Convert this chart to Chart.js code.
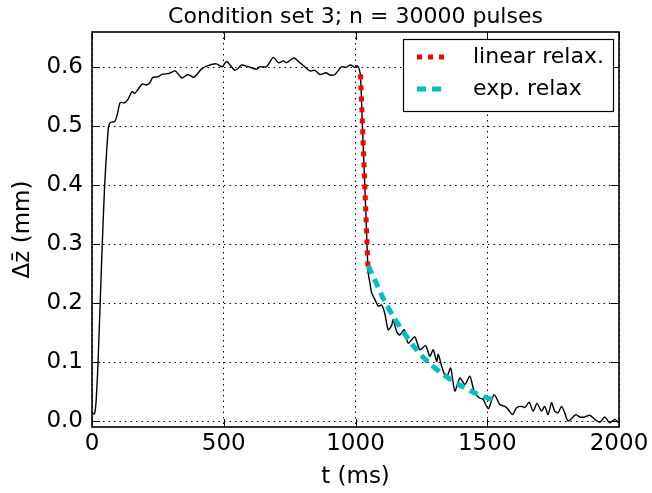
<!DOCTYPE html>
<html>
<head>
<meta charset="utf-8">
<script src="https://cdn.jsdelivr.net/npm/chart.js@4/dist/chart.umd.min.js"></script>
<style>
  html, body { margin: 0; padding: 0; background: #fff; }
  #wrap { width: 652px; height: 493px; }
</style>
</head>
<body>
<div id="wrap"><canvas id="chart"></canvas></div>
<script>
// measured signal (ms, mm)
const tMeas = [0, 5, 10, 15, 20, 23, 31, 39, 48, 56, 63, 71, 86, 96, 107, 124, 137, 152, 162, 175,
  191, 206, 219, 231, 250, 266, 295, 316, 341, 364, 387, 415, 440, 472, 494, 511, 543, 568, 587, 625,
  637, 662, 688, 707, 726, 738, 766, 789, 827, 846, 865, 888, 903, 922, 947, 964, 981, 998, 1007, 1014,
  1019, 1026, 1033, 1040, 1048, 1055, 1061, 1074, 1086, 1099, 1111, 1124, 1137, 1143, 1156, 1168, 1185, 1200,
  1225, 1244, 1266, 1282, 1295, 1308, 1314, 1329, 1345, 1361, 1377, 1396, 1415, 1434, 1450, 1468, 1484, 1504,
  1526, 1548, 1567, 1579, 1596, 1612, 1630, 1643, 1659, 1674, 1689, 1706, 1718, 1731, 1744, 1756, 1769, 1782,
  1794, 1807, 1836, 1851, 1870, 1889, 1908, 1927, 1946, 1965, 1984, 1997, 2000];
const zMeas = [0.016, 0.012, 0.013, 0.03, 0.07, 0.1, 0.2, 0.3, 0.4, 0.46, 0.5, 0.507, 0.508, 0.52, 0.54, 0.54, 0.546, 0.559, 0.556, 0.563,
  0.572, 0.57, 0.574, 0.583, 0.584, 0.588, 0.59, 0.594, 0.582, 0.588, 0.583, 0.597, 0.603, 0.606, 0.601, 0.61, 0.595, 0.604, 0.602, 0.597,
  0.601, 0.601, 0.617, 0.608, 0.611, 0.608, 0.616, 0.608, 0.594, 0.595, 0.588, 0.591, 0.587, 0.588, 0.601, 0.6, 0.604, 0.6, 0.603, 0.597,
  0.585, 0.505, 0.425, 0.345, 0.252, 0.234, 0.218, 0.206, 0.195, 0.197, 0.183, 0.155, 0.162, 0.172, 0.152, 0.146, 0.155, 0.132,
  0.143, 0.121, 0.128, 0.11, 0.121, 0.101, 0.113, 0.09, 0.073, 0.09, 0.051, 0.073, 0.062, 0.076, 0.051, 0.04, 0.037, 0.021,
  0.045, 0.028, 0.025, 0.02, 0.011, 0.023, 0.025, 0.023, 0.032, 0.017, 0.03, 0.017, 0.025, 0.011, 0.031, 0.017, 0.014, 0.025,
  0.014, 0.0, 0.011, 0.007, 0.007, 0.01, 0.003, -0.002, 0.007, -0.003, 0.003, -0.002, 0.0];

// linear relaxation fit
const tLin = [1019, 1048];
const zLin = [0.588, 0.252];

// exponential relaxation fit
const tExp = [1048, 1064, 1080, 1111, 1147, 1185, 1226, 1278, 1333, 1392, 1456, 1526, 1535];
const zExp = [0.264, 0.248, 0.233, 0.203, 0.175, 0.149, 0.124, 0.099, 0.079, 0.062, 0.047, 0.035, 0.034];

const xTicks = [0, 500, 1000, 1500, 2000];
const yTicks = [0.0, 0.1, 0.2, 0.3, 0.4, 0.5, 0.6];

const TITLE = 'Condition set 3; n = 30000 pulses';
const FONT = 'DejaVu Sans';
const toPts = (xs, ys) => xs.map((x, i) => ({ x: x, y: ys[i] }));

// full box with inward ticks, like the old matplotlib style
const framePlugin = {
  id: 'frame',
  afterDatasetsDraw(chart) {
    const { ctx, chartArea: a, scales } = chart;
    ctx.save();
    ctx.strokeStyle = '#000';
    ctx.lineWidth = 1;
    ctx.beginPath();
    scales.x.ticks.forEach(t => {
      const px = Math.round(scales.x.getPixelForValue(t.value)) + 0.5;
      ctx.moveTo(px, a.bottom); ctx.lineTo(px, a.bottom - 8);
      ctx.moveTo(px, a.top); ctx.lineTo(px, a.top + 8);
    });
    scales.y.ticks.forEach(t => {
      const py = Math.round(scales.y.getPixelForValue(t.value)) + 0.5;
      ctx.moveTo(a.left, py); ctx.lineTo(a.left + 8, py);
      ctx.moveTo(a.right, py); ctx.lineTo(a.right - 8, py);
    });
    ctx.stroke();
    ctx.lineWidth = 1.6;
    ctx.strokeRect(a.left, a.top, a.right - a.left, a.bottom - a.top);

    // title centred over the axes
    ctx.fillStyle = '#000';
    ctx.font = '22px "' + FONT + '"';
    ctx.textAlign = 'center';
    ctx.textBaseline = 'middle';
    ctx.fillText(TITLE, (a.left + a.right) / 2, a.top - 15);
    ctx.restore();
  }
};

// legend box drawn in the upper right of the axes
const boxLegend = {
  id: 'boxLegend',
  afterDraw(chart) {
    const { ctx, chartArea: a } = chart;
    const items = chart.data.datasets.filter(d => d.label);
    const w = 210, rowH = 32;
    const h = items.length * rowH + 8;
    const x0 = a.right - 6 - w, y0 = a.top + 7;
    ctx.save();
    ctx.fillStyle = '#fff';
    ctx.fillRect(x0, y0, w, h);
    ctx.strokeStyle = '#000';
    ctx.lineWidth = 1.2;
    ctx.strokeRect(x0 + 0.5, y0 + 0.5, w, h);
    items.forEach((d, i) => {
      const y = y0 + 18 + i * rowH;
      ctx.beginPath();
      ctx.setLineDash(d.borderDash || []);
      ctx.lineCap = 'butt';
      ctx.strokeStyle = d.borderColor;
      ctx.lineWidth = d.borderWidth;
      ctx.moveTo(x0 + 14, y);
      ctx.lineTo(x0 + 44, y);
      ctx.stroke();
      ctx.setLineDash([]);
      ctx.fillStyle = '#000';
      ctx.font = '22px "' + FONT + '"';
      ctx.textBaseline = 'middle';
      ctx.textAlign = 'left';
      ctx.fillText(d.label, x0 + 70, y);
    });
    ctx.restore();
  }
};

new Chart(document.getElementById('chart'), {
  type: 'line',
  data: {
    datasets: [
      {
        data: toPts(tMeas, zMeas),
        borderColor: '#000',
        borderWidth: 1.4,
        pointRadius: 0,
        tension: 0.25,
        order: 3
      },
      {
        label: 'linear relax.',
        data: toPts(tLin, zLin),
        borderColor: '#ff0000',
        borderWidth: 5,
        borderDash: [5, 6],
        borderCapStyle: 'butt',
        pointRadius: 0,
        order: 2
      },
      {
        label: 'exp. relax',
        data: toPts(tExp, zExp),
        borderColor: '#00bfbf',
        borderWidth: 5,
        borderDash: [9, 6],
        borderCapStyle: 'butt',
        pointRadius: 0,
        tension: 0.3,
        order: 1
      }
    ]
  },
  options: {
    responsive: true,
    maintainAspectRatio: false,
    animation: false,
    layout: { padding: { top: 32, right: 33, left: 0, bottom: 0 } },
    plugins: {
      legend: { display: false },
      tooltip: { enabled: false },
      title: { display: false }
    },
    scales: {
      x: {
        type: 'linear',
        min: 0,
        max: 2000,
        afterFit: s => { s.height = 66; },
        afterBuildTicks: s => { s.ticks = xTicks.map(v => ({ value: v })); },
        grid: { color: '#000', lineWidth: 1, drawTicks: false },
        border: { display: false, dash: [1.5, 4] },
        ticks: {
          color: '#000', padding: 3, maxRotation: 0,
          font: { family: FONT, size: 23 },
          callback: v => String(v)
        },
        title: {
          display: true, text: 't (ms)', color: '#000',
          font: { family: FONT, size: 23 },
          padding: { top: 0, bottom: 2 }
        }
      },
      y: {
        min: -0.01,
        max: 0.66,
        afterFit: s => { s.width = 92; },
        afterBuildTicks: s => { s.ticks = yTicks.map(v => ({ value: v })); },
        grid: { color: '#000', lineWidth: 1, drawTicks: false },
        border: { display: false, dash: [1.5, 4] },
        ticks: {
          color: '#000', padding: 9,
          font: { family: FONT, size: 23 },
          callback: v => Number(v).toFixed(1)
        },
        title: {
          display: true, text: 'Δz̄ (mm)', color: '#000',
          font: { family: FONT, size: 23 },
          padding: { top: 9, bottom: 0 }
        }
      }
    }
  },
  plugins: [framePlugin, boxLegend]
});
</script>
</body>
</html>
